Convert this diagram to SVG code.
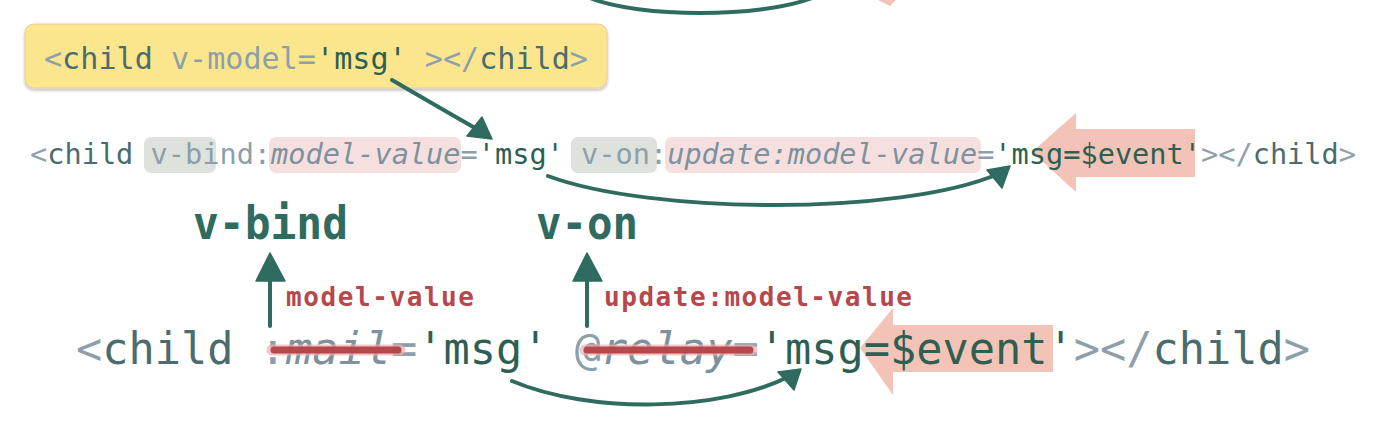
<svg xmlns="http://www.w3.org/2000/svg" width="1400" height="436" viewBox="0 0 1400 436">
<defs>
<style>
.mono{font-family:"DejaVu Sans Mono","Liberation Mono",monospace;}
.g{fill:#8d9fab}
.t{fill:#4a6c6e}
.v{fill:#2d5f52}
.i{fill:#7d919e;font-style:italic}
.ln{fill:none;stroke:#2f6b5e;stroke-width:4;stroke-linecap:round}
.hd{fill:#2f6b5e;stroke:#2f6b5e;stroke-width:1.5;stroke-linejoin:round}
.sal{fill:#f3c3b7}
.strike-bg{fill:none;stroke:#eab0b0;stroke-width:11;stroke-linecap:round;opacity:0.7}
.strike{fill:none;stroke:#b6474c;stroke-width:7;stroke-linecap:round}
.lbl{fill:#b6474c;font-weight:bold}
.big{fill:#2f6b5e;font-weight:bold}
</style>
<filter id="sh" x="-5%" y="-20%" width="110%" height="150%">
<feDropShadow dx="0" dy="2" stdDeviation="1.5" flood-color="#000" flood-opacity="0.25"/>
</filter>
</defs>
<rect width="1400" height="436" fill="#ffffff"/>

<g id="top-partial">
<polygon class="sal" points="878,0 896,0 890,6"/>
</g>

<g id="vmodel-box">
<rect x="25" y="24" width="582" height="64" rx="9" fill="#fbe68d" stroke="#e9cfa3" stroke-width="1.2" filter="url(#sh)"/>
<text class="mono" x="44" y="69" font-size="30" textLength="544" lengthAdjust="spacingAndGlyphs"><tspan class="g">&lt;</tspan><tspan class="t">child</tspan><tspan class="g"> v-model=</tspan><tspan class="v">'msg'</tspan><tspan class="g"> &gt;&lt;/</tspan><tspan class="t">child</tspan><tspan class="g">&gt;</tspan></text>
</g>

<g id="expanded-line">
<rect x="144" y="137" width="72" height="36" rx="7" fill="#dde2dc"/>
<rect x="269" y="137" width="192" height="36" rx="7" fill="#f6e0df"/>
<rect x="571" y="137" width="86" height="36" rx="7" fill="#dde2dc"/>
<rect x="665" y="137" width="316" height="36" rx="7" fill="#f6e0df"/>
<polygon class="sal" points="1032,152 1076,113 1076,129 1195,129 1195,177 1076,177 1076,192"/>
<text class="mono" x="30" y="164" font-size="29" textLength="1326" lengthAdjust="spacingAndGlyphs"><tspan class="g">&lt;</tspan><tspan class="t">child</tspan><tspan class="g"> v-bind:</tspan><tspan class="i">model-value</tspan><tspan class="g">=</tspan><tspan class="v">'msg'</tspan><tspan class="g"> v-on:</tspan><tspan class="i">update:model-value</tspan><tspan class="g">=</tspan><tspan class="v">'msg=$event'</tspan><tspan class="g">&gt;&lt;/</tspan><tspan class="t">child</tspan><tspan class="g">&gt;</tspan></text>
</g>

<g id="vbind-label">
<text class="mono big" x="193" y="239" font-size="46" textLength="155" lengthAdjust="spacingAndGlyphs">v-bind</text>
</g>
<g id="von-label">
<text class="mono big" x="536" y="239" font-size="46" textLength="102" lengthAdjust="spacingAndGlyphs">v-on</text>
</g>

<g id="model-value-label">
<text class="mono lbl" x="286" y="306" font-size="26" textLength="188" lengthAdjust="spacing">model-value</text>
</g>
<g id="update-label">
<text class="mono lbl" x="604" y="306" font-size="26" textLength="308" lengthAdjust="spacing">update:model-value</text>
</g>

<g id="shorthand-line">
<polygon class="sal" points="860,348 893,308 893,325 1053,325 1053,372 893,372 893,395"/>
<text class="mono" x="76" y="364" font-size="45" textLength="1234" lengthAdjust="spacingAndGlyphs"><tspan class="g">&lt;</tspan><tspan class="t">child</tspan><tspan class="g"> :</tspan><tspan class="i">mail</tspan><tspan class="g">=</tspan><tspan class="v">'msg'</tspan><tspan class="g"> @</tspan><tspan class="i">relay</tspan><tspan class="g">=</tspan><tspan class="v">'msg=$event'</tspan><tspan class="g">&gt;&lt;/</tspan><tspan class="t">child</tspan><tspan class="g">&gt;</tspan></text>
</g>

<g id="connectors">
<path class="ln" d="M590,-2 C640,18 760,18 812,-2"/>
<path class="ln" d="M392,80 Q440,108 482,132"/>
<polygon class="hd" points="492,139 467,136 482,117"/>
<path class="ln" d="M548,176 C650,214 900,216 998,174"/>
<polygon class="hd" points="1010,166 987,170 1002,188"/>
<path class="ln" d="M270,326 L270,278"/>
<polygon class="hd" points="270,253 256,281 285,281"/>
<path class="ln" d="M587,326 L587,278"/>
<polygon class="hd" points="587,253 573,281 602,281"/>
<path class="ln" d="M512,381 C590,414 720,412 790,376"/>
<polygon class="hd" points="801,369 778,372 794,390"/>
<path class="strike-bg" d="M272,350 L400,350"/>
<path class="strike" d="M274,350 L398,350"/>
<path class="strike-bg" d="M585,350 L752,350"/>
<path class="strike" d="M587,350 L750,350"/>
</g>
</svg>
